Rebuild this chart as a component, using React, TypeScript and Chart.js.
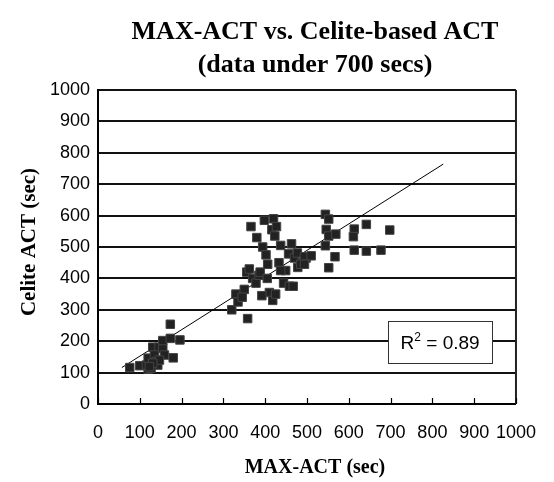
import React, { useEffect, useRef } from 'react';
import { Chart, registerables } from 'chart.js';

Chart.register(...registerables);

const titleLines = ['MAX-ACT vs. Celite-based ACT', '(data under 700 secs)'];
const xAxisTitle = 'MAX-ACT (sec)';
const yAxisTitle = 'Celite ACT (sec)';
const r2Label = 'R';
const r2Value = ' = 0.89';

// lower cluster
const lowX = [76, 100, 120, 116, 120, 131, 146, 135, 139, 143, 127, 155, 159, 155, 173, 173, 196, 180, 147, 131, 123];
const lowY = [116, 122, 111, 124, 146, 181, 181, 156, 135, 124, 114, 177, 156, 202, 209, 254, 204, 147, 140, 130, 119];
// middle cluster
const midX = [320, 330, 335, 350, 345, 358, 356, 362, 370, 378, 385, 366, 380, 388, 394, 398, 402, 406, 410, 416, 420, 423, 427, 418, 425, 433, 437, 444, 449, 456, 463, 458, 467, 470, 478, 488, 498, 437, 392, 405];
const midY = [300, 350, 325, 365, 340, 272, 420, 430, 400, 385, 410, 565, 530, 420, 500, 585, 475, 445, 355, 555, 590, 535, 565, 330, 350, 450, 505, 385, 425, 478, 510, 375, 375, 465, 435, 450, 465, 425, 345, 400];
// upper right cluster
const highX = [544, 552, 546, 552, 569, 613, 611, 642, 698, 477, 494, 510, 544, 567, 613, 642, 677, 485, 494, 552];
const highY = [604, 589, 556, 535, 541, 557, 533, 572, 554, 481, 469, 472, 504, 469, 490, 487, 490, 445, 445, 434];

const trendX = [57, 826];
const trendY = [116, 764];

const xTicks = [0, 100, 200, 300, 400, 500, 600, 700, 800, 900, 1000];

const serif = '"Liberation Serif", "Times New Roman", serif';
const sans = '"Liberation Sans", Arial, sans-serif';

const decorPlugin = {
  id: 'decor',
  afterDraw(chart: any) {
    const { ctx, chartArea, scales } = chart;
    const xs = scales.x;
    const ys = scales.y;
    ctx.save();
    // titles
    ctx.fillStyle = '#000';
    ctx.textAlign = 'center';
    ctx.textBaseline = 'middle';
    ctx.font = `bold 26px ${serif}`;
    const cx = (chartArea.left + chartArea.right) / 2 + 8;
    ctx.fillText(titleLines[0], cx, 32);
    ctx.fillText(titleLines[1], cx, 65);
    ctx.font = `bold 20px ${serif}`;
    ctx.fillText(xAxisTitle, cx, 468);
    ctx.save();
    ctx.translate(30, 242);
    ctx.rotate(-Math.PI / 2);
    ctx.font = `bold 21px ${serif}`;
    ctx.fillText(yAxisTitle, 0, 0);
    ctx.restore();

    // right border
    ctx.strokeStyle = '#222';
    ctx.lineWidth = 2;
    ctx.beginPath();
    ctx.moveTo(chartArea.right, chartArea.top);
    ctx.lineTo(chartArea.right, chartArea.bottom);
    ctx.stroke();

    // inner tick marks on x axis
    ctx.lineWidth = 1.2;
    ctx.strokeStyle = '#000';
    xTicks.forEach((v) => {
      const px = Math.round(xs.getPixelForValue(v)) + 0.5;
      ctx.beginPath();
      ctx.moveTo(px, chartArea.bottom);
      ctx.lineTo(px, chartArea.bottom - 6);
      ctx.stroke();
    });

    // R^2 box
    const bx0 = xs.getPixelForValue(694);
    const bx1 = xs.getPixelForValue(943);
    const by0 = ys.getPixelForValue(264);
    const by1 = ys.getPixelForValue(131);
    ctx.fillStyle = '#fff';
    ctx.fillRect(bx0, by0, bx1 - bx0, by1 - by0);
    ctx.strokeStyle = '#333';
    ctx.lineWidth = 1;
    ctx.strokeRect(Math.round(bx0) + 0.5, Math.round(by0) + 0.5, Math.round(bx1 - bx0), Math.round(by1 - by0));
    ctx.fillStyle = '#000';
    ctx.textAlign = 'left';
    ctx.textBaseline = 'alphabetic';
    ctx.font = `19px ${sans}`;
    const wR = ctx.measureText(r2Label).width;
    ctx.font = `12px ${sans}`;
    const w2 = ctx.measureText('2').width;
    ctx.font = `19px ${sans}`;
    const wV = ctx.measureText(r2Value).width;
    const total = wR + w2 + wV;
    const startX = (bx0 + bx1) / 2 - total / 2;
    const baseY = (by0 + by1) / 2 + 7;
    ctx.fillText(r2Label, startX, baseY);
    ctx.font = `12px ${sans}`;
    ctx.fillText('2', startX + wR, baseY - 8);
    ctx.font = `19px ${sans}`;
    ctx.fillText(r2Value, startX + wR + w2, baseY);
    ctx.restore();
  },
};

export default function App() {
  const ref = useRef<HTMLCanvasElement>(null);
  useEffect(() => {
    if (!ref.current) return;
    const toPts = (xa: number[], ya: number[]) => xa.map((x, i) => ({ x, y: ya[i] }));
    const points = [...toPts(lowX, lowY), ...toPts(midX, midY), ...toPts(highX, highY)];
    const chart = new Chart(ref.current, {
      type: 'scatter',
      data: {
        datasets: [
          {
            type: 'line',
            data: toPts(trendX, trendY),
            borderColor: '#000',
            borderWidth: 1,
            pointRadius: 0,
            showLine: true,
            fill: false,
            order: 2,
          } as any,
          {
            data: points,
            pointStyle: 'rect',
            pointRadius: 6,
            backgroundColor: '#222',
            borderColor: '#444',
            borderWidth: 1,
            order: 1,
          },
        ],
      },
      options: {
        animation: false,
        responsive: false,
        maintainAspectRatio: false,
        layout: { padding: { left: 0, top: 90, right: 32, bottom: 0 } },
        plugins: {
          legend: { display: false },
          title: { display: false },
          tooltip: { enabled: false },
        },
        scales: {
          x: {
            type: 'linear',
            min: 0,
            max: 1000,
            afterFit: (s: any) => { s.height = 78; },
            ticks: {
              stepSize: 100,
              autoSkip: false,
              maxRotation: 0,
              padding: 18,
              color: '#000',
              font: { family: sans, size: 18 },
              callback: (v: any) => String(v),
            },
            grid: { display: false, drawTicks: false },
            border: { display: true, color: '#000', width: 2 },
          },
          y: {
            type: 'linear',
            min: 0,
            max: 1000,
            afterFit: (s: any) => { s.width = 98; },
            ticks: {
              stepSize: 100,
              padding: 8,
              color: '#000',
              font: { family: sans, size: 18 },
              callback: (v: any) => String(v),
            },
            grid: { color: '#111', lineWidth: 2, drawTicks: false },
            border: { display: true, color: '#000', width: 2 },
          },
        },
      },
      plugins: [decorPlugin],
    });
    return () => chart.destroy();
  }, []);
  return (
    <div style={{ position: 'fixed', left: 0, top: 0, width: 554, height: 482, background: '#fff' }}>
      <canvas ref={ref} width={554} height={482} style={{ width: 554, height: 482 }} />
    </div>
  );
}
